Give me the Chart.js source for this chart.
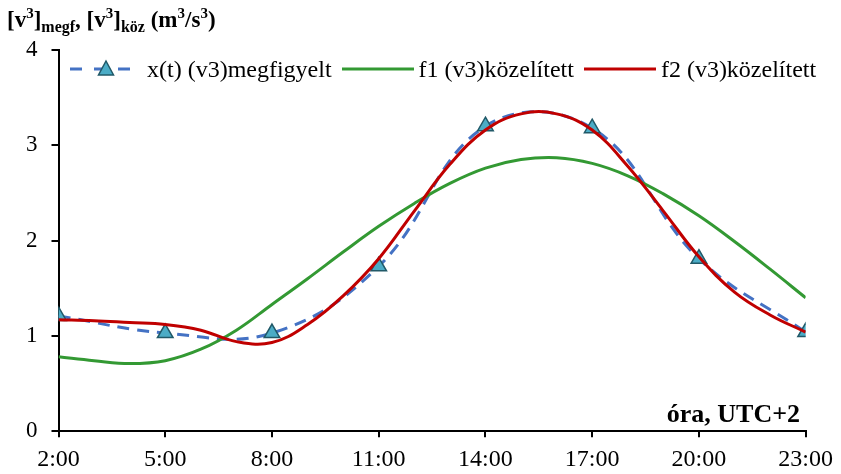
<!DOCTYPE html>
<html>
<head>
<meta charset="utf-8">
<script src="https://cdn.jsdelivr.net/npm/chart.js@4.4.0/dist/chart.umd.min.js"></script>
<style>
  body { margin: 0; background: #fff; }
  #wrap { position: relative; width: 841px; height: 474px; }
  .serif { font-family: "Liberation Serif", "Times New Roman", serif; color: #000; }
  #ytitle { position: absolute; left: 7px; top: 8px; font-size: 23px; line-height: 1; font-weight: bold; white-space: nowrap; }
  #ytitle sup { font-size: 15px; position: relative; top: -9px; vertical-align: baseline; line-height: 0; }
  #ytitle sub { font-size: 16px; position: relative; top: 5px; vertical-align: baseline; line-height: 0; }
  #xtitle { position: absolute; right: 41px; top: 399px; font-size: 26px; font-weight: bold; white-space: nowrap; }
  #legend { position: absolute; left: 70px; top: 55px; height: 28px; display: flex; align-items: center; font-size: 24px; white-space: nowrap; }
  #legend .item { display: flex; align-items: center; margin-right: 10px; }
  #legend canvas { margin-right: 5px; }
</style>
</head>
<body>
<div id="wrap">
  <canvas id="chart" width="841" height="474"></canvas>
  <div id="ytitle" class="serif">[v<sup>3</sup>]<sub>megf</sub>, [v<sup>3</sup>]<sub>köz</sub> (m<sup>3</sup>/s<sup>3</sup>)</div>
  <div id="xtitle" class="serif">óra, UTC+2</div>
  <div id="legend" class="serif"></div>
</div>
<script>
// observed values, every 3 hours
const obsHours = [2, 5, 8, 11, 14, 17, 20, 23];
const obsValues = [1.21, 1.03, 1.03, 1.73, 3.20, 3.18, 1.81, 1.04];

// fitted curves, hourly
const fitHours = [2, 3, 4, 5, 6, 7, 8, 9, 10, 11, 12, 13, 14, 15, 16, 17, 18, 19, 20, 21, 22, 23];
const f1Values = [0.78, 0.74, 0.71, 0.74, 0.86, 1.06, 1.33, 1.60, 1.88, 2.15, 2.39, 2.60, 2.76, 2.85, 2.87, 2.81, 2.68, 2.49, 2.26, 1.99, 1.70, 1.40];
const f2Values = [1.17, 1.16, 1.14, 1.12, 1.06, 0.94, 0.93, 1.12, 1.42, 1.81, 2.31, 2.80, 3.16, 3.33, 3.33, 3.16, 2.78, 2.31, 1.83, 1.46, 1.22, 1.04];

const xTicks = [2, 5, 8, 11, 14, 17, 20, 23];
const seriesNames = ['x(t) (v3)megfigyelt', 'f1 (v3)közelített', 'f2 (v3)közelített'];

const fontFamily = '"Liberation Serif", "Times New Roman", serif';
const blue = '#4472C4';
const green = '#339933';
const red = '#C00000';
const markerFill = '#4BACC6';
const markerEdge = '#215968';

// small canvas used as a legend symbol
function legendIcon(color, dashed) {
    const c = document.createElement('canvas');
    c.width = 72;
    c.height = 20;
    const g = c.getContext('2d');
    g.strokeStyle = color;
    g.lineWidth = 3;
    g.beginPath();
    if (dashed) {
        // dash - gap - dash - triangle - dash
        [[0, 12], [24, 36], [48, 60]].forEach(([a, b]) => {
            g.moveTo(a, 10);
            g.lineTo(b, 10);
        });
    } else {
        g.moveTo(0, 10);
        g.lineTo(72, 10);
    }
    g.stroke();
    if (dashed) {
        g.fillStyle = markerFill;
        g.strokeStyle = markerEdge;
        g.lineWidth = 1.5;
        g.beginPath();
        g.moveTo(36, 2);
        g.lineTo(43.5, 16);
        g.lineTo(28.5, 16);
        g.closePath();
        g.fill();
        g.stroke();
    }
    return c;
}

// build the legend
const legendBox = document.getElementById('legend');
[[blue, true], [green, false], [red, false]].forEach(([color, dashed], i) => {
    const item = document.createElement('div');
    item.className = 'item';
    item.appendChild(legendIcon(color, dashed));
    const label = document.createElement('span');
    label.textContent = seriesNames[i];
    item.appendChild(label);
    legendBox.appendChild(item);
});

const ctx = document.getElementById('chart').getContext('2d');
new Chart(ctx, {
    type: 'line',
    data: {
        datasets: [
            {
                label: seriesNames[0],
                data: obsHours.map((h, i) => ({ x: h, y: obsValues[i] })),
                borderColor: blue,
                borderWidth: 3,
                borderDash: [12, 8],
                tension: 0.4,
                pointStyle: 'triangle',
                pointRadius: 9,
                pointBackgroundColor: markerFill,
                pointBorderColor: markerEdge,
                pointBorderWidth: 1.5,
                order: 2
            },
            {
                label: seriesNames[1],
                data: fitHours.map((h, i) => ({ x: h, y: f1Values[i] })),
                borderColor: green,
                borderWidth: 3,
                tension: 0.4,
                pointRadius: 0,
                order: 1
            },
            {
                label: seriesNames[2],
                data: fitHours.map((h, i) => ({ x: h, y: f2Values[i] })),
                borderColor: red,
                borderWidth: 3,
                tension: 0.4,
                pointRadius: 0,
                order: 0
            }
        ]
    },
    options: {
        responsive: false,
        animation: false,
        layout: { padding: { left: 12, right: 0, top: 50, bottom: -8 } },
        plugins: {
            tooltip: { enabled: false },
            legend: { display: false }
        },
        scales: {
            x: {
                type: 'linear',
                min: 2,
                max: 23,
                afterBuildTicks: (axis) => { axis.ticks = xTicks.map(v => ({ value: v })); },
                ticks: {
                    color: '#000',
                    font: { family: fontFamily, size: 24 },
                    padding: 8,
                    maxRotation: 0,
                    callback: (v) => v + ':00'
                },
                grid: { drawOnChartArea: false, color: '#000', tickLength: 6, lineWidth: 2 },
                border: { color: '#000', width: 2 }
            },
            y: {
                min: 0,
                max: 4,
                ticks: {
                    stepSize: 1,
                    color: '#000',
                    font: { family: fontFamily, size: 23 },
                    padding: 14
                },
                grid: { drawOnChartArea: false, color: '#000', tickLength: 7, lineWidth: 2 },
                border: { color: '#000', width: 2 }
            }
        }
    }
});
</script>
</body>
</html>
